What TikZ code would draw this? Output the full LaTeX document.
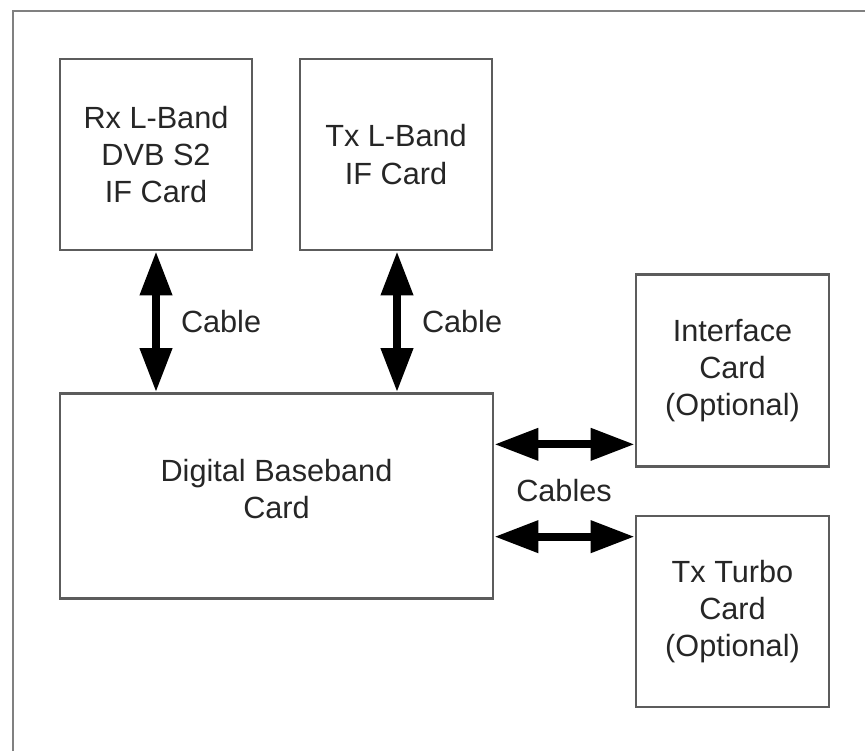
\documentclass[tikz,border=0pt]{standalone}
\usepackage{fontspec}
\setmainfont{Liberation Sans}
\usetikzlibrary{arrows.meta,positioning,calc}

\begin{document}
\begin{tikzpicture}[
  x=0.75pt, y=-0.75pt,
  every node/.style={font=\fontsize{23}{28}\selectfont, text=black!85},
  card/.style={rectangle, draw=black!64, line width=2pt, align=center,
               inner sep=0pt},
  frm/.style ={draw=black!50, line width=2.2pt},
  cbl/.style ={line width=6pt, {Triangle[length=33pt,width=23pt]}-{Triangle[length=33pt,width=23pt]}},
  lbl/.style ={inner sep=0pt}
]
\useasboundingbox (0,0) rectangle (865,751);

%% outer frame
\draw[frm] (13,751) -- (13,11) -- (866,11);

%% cards
\node[card, minimum width=144pt, minimum height=143.25pt] (rx) at (156,154.5)
  {Rx L-Band\\DVB S2\\IF Card};
\node[card, minimum width=144pt, minimum height=143.25pt] (tx) at (396,154.5)
  {Tx L-Band\\IF Card};
\node[card, minimum width=324.75pt, minimum height=153.75pt] (dbb) at (276.5,496) {};
\node[align=center] (dbbt) at ([yshift=5.25pt]dbb.center) {Digital Baseband\\Card};
\node[card, minimum width=144.75pt, minimum height=144pt] (ifc) at (732.5,370.5)
  {Interface\\Card\\(Optional)};
\node[card, minimum width=144.75pt, minimum height=143.25pt] (ttc) at (732.5,611.5)
  {Tx Turbo\\Card\\(Optional)};

%% cables
\coordinate (ifcin) at ($(ifc.south west)+(0,-23.5)$);
\coordinate (ttcin) at ($(ttc.north west)+(0,22)$);
\draw[cbl] (rx.south) -- (rx.south |- dbb.north)
  node[lbl, midway, right=15.75pt] (rxc) {Cable};
\draw[cbl] ([xshift=0.75pt]tx.south) -- ([xshift=0.75pt]tx.south |- dbb.north)
  node[lbl, midway, right=15.75pt] (txc) {Cable};
\draw[cbl] (dbb.east |- ifcin) -- (ifcin);
\draw[cbl] (dbb.east |- ttcin) -- (ttcin);
\node[lbl] (cbls) at (564,491) {Cables};
\end{tikzpicture}
\end{document}
